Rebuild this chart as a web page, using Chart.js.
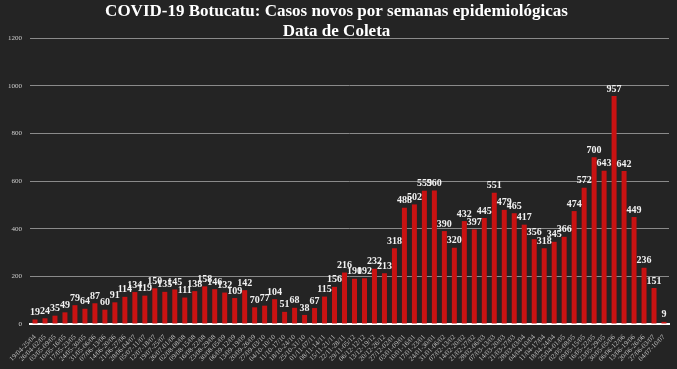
<!DOCTYPE html>
<html>
<head>
<meta charset="utf-8">
<script src="https://cdn.jsdelivr.net/npm/chart.js@4.4.0/dist/chart.umd.min.js"></script>
<style>
    html, body { margin: 0; padding: 0; background: #242424; }
    #wrap { width: 677px; height: 369px; }
</style>
</head>
<body>
<div id="wrap"><canvas id="casosChart" width="677" height="369"></canvas></div>
<script>
// Semanas epidemiológicas (data de coleta)
const semanas = [
    '19/04-25/04', '26/04-02/05', '03/05-09/05', '10/05-16/05', '17/05-23/05', '24/05-30/05',
    '31/05-06/06', '07/06-13/06', '14/06-20/06', '21/06-27/06', '28/06-04/07', '05/07-11/07',
    '12/07-18/07', '19/07-25/07', '26/07-01/08', '02/08-08/08', '09/08-15/08', '16/08-22/08',
    '23/08-29/08', '30/08-05/09', '06/09-12/09', '13/09-19/09', '20/09-26/09', '27/09-03/10',
    '04/10-10/10', '11/10-17/10', '18/10-24/10', '25/10-31/10', '01/11-07/11', '08/11-14/11',
    '15/11-21/11', '22/11-28/11', '29/11-05/12', '06/12-12/12', '13/12-19/12', '20/12-26/12',
    '27/12-02/01', '03/01-09/01', '10/01-16/01', '17/01-23/01', '24/01-30/01', '31/01-06/02',
    '07/02-13/02', '14/02-20/02', '21/02-27/02', '28/02-06/03', '07/03-13/03', '14/03-20/03',
    '21/03-27/03', '28/03-03/04', '04/04-10/04', '11/04-17/04', '18/04-24/04', '25/04-01/05',
    '02/05-08/05', '09/05-15/05', '16/05-22/05', '23/05-29/05', '30/05-05/06', '06/06-12/06',
    '13/06-19/06', '20/06-26/06', '27/06-03/07', '04/07-10/07'
];

const casosNovos = [
    19, 24, 35, 49, 79, 64, 87, 60, 91, 114, 134, 119,
    150, 135, 145, 111, 138, 158, 146, 132, 109, 142, 70, 77,
    104, 51, 68, 38, 67, 115, 156, 216, 190, 192, 232, 213,
    318, 488, 502, 559, 560, 390, 320, 432, 397, 445, 551, 479,
    465, 417, 356, 318, 345, 366, 474, 572, 700, 643, 957, 642,
    449, 236, 151, 9
];

const yTicks = [0, 200, 400, 600, 800, 1000, 1200];

const serif = '"Liberation Serif", "DejaVu Serif", serif';

// Valores acima das barras
const valueLabels = {
    id: 'valueLabels',
    afterDatasetsDraw(chart) {
        const ctx = chart.ctx;
        const meta = chart.getDatasetMeta(0);
        ctx.save();
        ctx.fillStyle = '#f2f2f2';
        ctx.font = 'bold 10px ' + serif;
        ctx.textAlign = 'center';
        ctx.textBaseline = 'bottom';
        meta.data.forEach((bar, i) => {
            ctx.fillText(String(casosNovos[i]), bar.x, bar.y - 2);
        });
        ctx.restore();
    }
};

document.addEventListener('DOMContentLoaded', function() {
    const ctx = document.getElementById('casosChart');
    new Chart(ctx, {
        type: 'bar',
        data: {
            labels: semanas,
            datasets: [{
                label: 'Casos novos',
                data: casosNovos,
                backgroundColor: '#c91212',
                borderWidth: 0,
                barPercentage: 0.5,
                categoryPercentage: 1
            }]
        },
        options: {
            responsive: false,
            animation: false,
            layout: { padding: { left: 4, right: 8, top: 0, bottom: 0 } },
            plugins: {
                legend: { display: false },
                tooltip: { enabled: false },
                title: {
                    display: true,
                    text: ['COVID-19 Botucatu: Casos novos por semanas epidemiológicas', 'Data de Coleta'],
                    color: '#ffffff',
                    font: { family: serif, size: 17, weight: 'bold', lineHeight: 1.18 },
                    padding: { top: 2, bottom: -4 }
                }
            },
            scales: {
                x: {
                    afterFit(scale) { scale.height = 45; },
                    grid: { display: false },
                    border: { color: '#ffffff', width: 2 },
                    ticks: {
                        color: '#bdbdbd',
                        font: { family: serif, size: 7 },
                        autoSkip: false,
                        minRotation: 45,
                        maxRotation: 45,
                        padding: 1
                    }
                },
                y: {
                    min: 0,
                    max: 1200,
                    afterBuildTicks(scale) {
                        scale.ticks = yTicks.map(v => ({ value: v }));
                    },
                    afterFit(scale) { scale.width = 26; },
                    grid: { color: '#8a8a8a', lineWidth: 1, drawTicks: false },
                    border: { display: false },
                    ticks: {
                        color: '#cfcfcf',
                        font: { family: serif, size: 7 },
                        padding: 8,
                        callback: function(value) { return String(value); }
                    }
                }
            }
        },
        plugins: [valueLabels]
    });
});
</script>
</body>
</html>
